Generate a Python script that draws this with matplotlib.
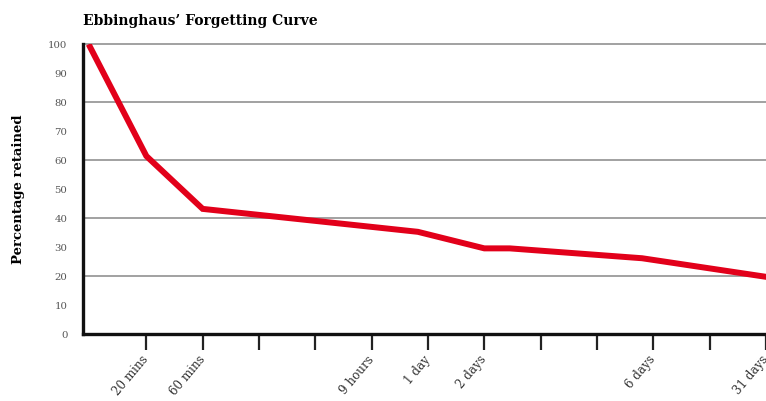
import matplotlib
matplotlib.use("Agg")
import matplotlib.pyplot as plt

# positions along the time axis (tick units) and retention in percent
time_pos = [0, 1, 2, 5, 5.82, 7, 7.45, 9.8, 12]
retained = [99, 61.4, 43.2, 37.0, 35.3, 29.6, 29.6, 26.2, 19.8]

tick_pos = list(range(1, 13))
tick_labels = ['20 mins', '60 mins', '', '', '9 hours', '1 day', '2 days',
               '', '', '6 days', '', '31 days']
y_ticks = list(range(0, 101, 10))
grid_levels = [20, 40, 60, 80, 100]

serif = 'DejaVu Serif'

fig = plt.figure(figsize=(7.66, 4.01), dpi=100)
ax = fig.add_axes([82.7 / 766, 66.7 / 401, 1 - 82.7 / 766, (334.3 - 44) / 401])

for g in grid_levels:
    ax.axhline(g, color='#9a9a9a', linewidth=1.3, zorder=1, clip_on=False)

ax.plot(time_pos, retained, color='#e2001a', linewidth=4.3,
        solid_joinstyle='miter', zorder=3)

ax.set_xlim(-0.13, 12.0)
ax.set_ylim(0, 100)

ax.set_yticks(y_ticks)
ax.set_yticklabels([str(v) for v in y_ticks], fontsize=7.3, color='#555555',
                   family=serif)
ax.tick_params(axis='y', length=0, pad=11)

ax.set_xticks(tick_pos)
ax.set_xticklabels(tick_labels, rotation=50, ha='right', va='center',
                   rotation_mode='anchor', fontsize=8.6, color='#333333',
                   family=serif)
ax.tick_params(axis='x', length=11.5, width=1.6, color='#222222', pad=5)

for side in ['top', 'right']:
    ax.spines[side].set_visible(False)
for side in ['left', 'bottom']:
    ax.spines[side].set_linewidth(2.4)
    ax.spines[side].set_color('#111111')

ax.set_ylabel('Percentage retained', fontsize=9.5, fontweight='bold',
              family=serif)
ax.yaxis.set_label_coords((25 - 82.7) / (766 - 82.7), 0.5)

fig.text(83 / 766, 1 - 21 / 401, 'Ebbinghaus\u2019 Forgetting Curve',
         fontsize=10, fontweight='bold', family=serif, va='center', ha='left')

fig.savefig('out.png', dpi=100)
